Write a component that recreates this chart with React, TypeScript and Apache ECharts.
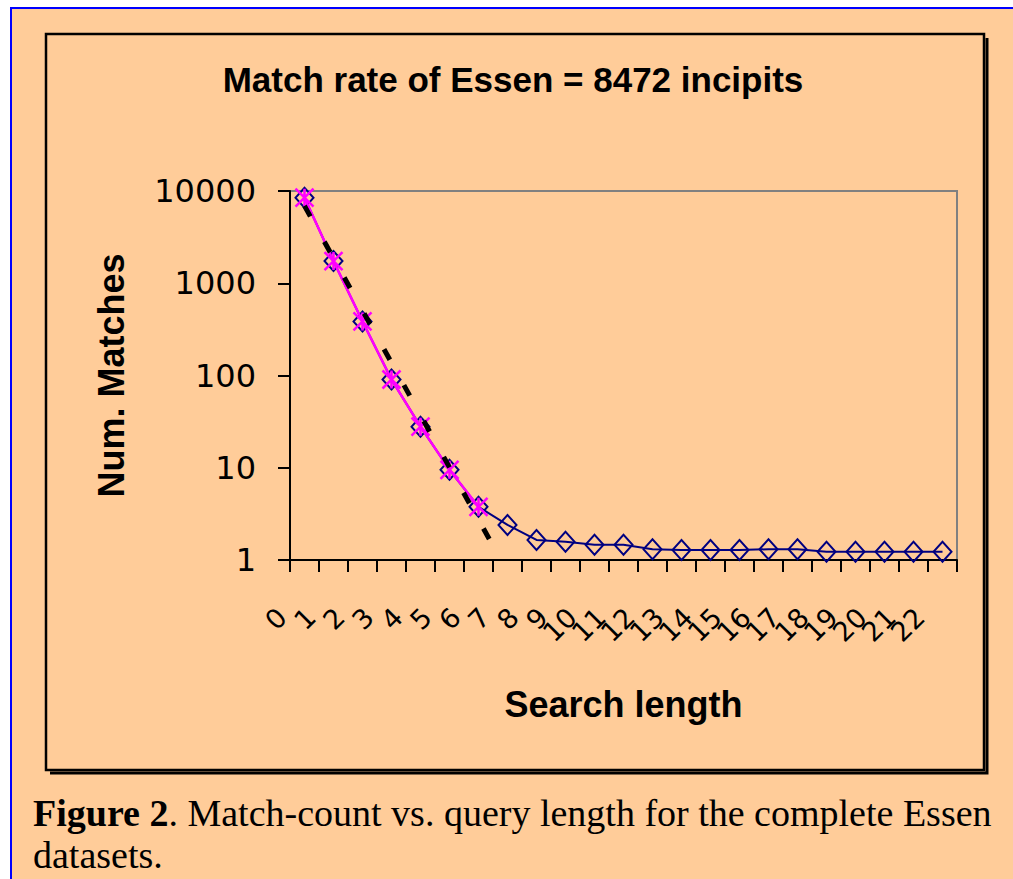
import React, { useEffect, useRef } from "react";
import * as echarts from "echarts";

const searchLengths = ["0","1","2","3","4","5","6","7","8","9","10","11","12","13","14","15","16","17","18","19","20","21","22"];
const allMatches = [8472, 1738, 386, 90.5, 27.9, 9.5, 3.77, 2.4, 1.65, 1.58, 1.46, 1.46, 1.31, 1.28, 1.28, 1.28, 1.31, 1.31, 1.23, 1.23, 1.23, 1.23, 1.23];
const earlyMatches = [8472, 1738, 386, 90.5, 27.9, 9.5, 3.77];
const trendX = [0, 6.6];
const trendY = [6900, 1.25];

const titleText = "Match rate of Essen = 8472 incipits";
const yName = "Num. Matches";
const xName = "Search length";
const captionBold = "Figure 2";
const captionLine1 = ". Match-count vs. query length for the complete Essen";
const captionLine2 = "datasets.";

const PEACH = "#FFCC99";
const SANS = "'Liberation Sans', Arial, sans-serif";
const SERIF = "'Liberation Serif', 'Times New Roman', serif";

export default function App() {
  const ref = useRef<HTMLDivElement>(null);
  useEffect(() => {
    if (!ref.current) return;
    const chart = echarts.init(ref.current, null, { renderer: "svg" });
    const xMarker = "path://M0,0L10,10M10,0L0,10M5,0L5,10";
    chart.setOption({
      animation: false,
      backgroundColor: "#ffffff",
      title: {
        text: titleText,
        left: 508,
        top: 57,
        textAlign: "center",
        textStyle: { fontFamily: SANS, fontWeight: "bold", fontSize: 35, color: "#000" },
      },
      grid: {
        left: 290,
        right: 56,
        top: 191,
        bottom: 319,
        show: true,
        borderColor: "#808080",
        borderWidth: 2,
        backgroundColor: "transparent",
        containLabel: false,
      },
      xAxis: [
        {
          type: "category",
          data: searchLengths,
          boundaryGap: true,
          name: xName,
          nameLocation: "middle",
          nameGap: 126,
          nameTextStyle: { fontFamily: SANS, fontWeight: "bold", fontSize: 36, color: "#000" },
          axisLine: { show: true, onZero: false, lineStyle: { color: "#000", width: 2 } },
          axisTick: { show: true, interval: 0, length: 12, lineStyle: { color: "#000", width: 2 } },
          axisLabel: {
            interval: 0,
            rotate: 45,
            margin: 30,
            padding: [0, 32, 0, 0],
            fontFamily: "'DejaVu Sans', sans-serif",
            fontSize: 27,
            color: "#000",
          },
          splitLine: { show: false },
        },
        {
          type: "value",
          min: -0.5,
          max: 22.5,
          show: false,
        },
      ],
      yAxis: {
        type: "log",
        logBase: 10,
        min: 1,
        max: 10000,
        name: yName,
        nameLocation: "middle",
        nameGap: 161,
        nameRotate: 90,
        nameTextStyle: { fontFamily: SANS, fontWeight: "bold", fontSize: 36, color: "#000" },
        axisLine: { show: true, onZero: false, lineStyle: { color: "#000", width: 2 } },
        axisTick: { show: true, length: 12, lineStyle: { color: "#000", width: 2 } },
        axisLabel: {
          margin: 34,
          fontFamily: "'DejaVu Sans', sans-serif",
          fontSize: 32,
          color: "#000",
          formatter: (v: number) => String(Math.round(v)),
        },
        splitLine: { show: false },
        minorTick: { show: false },
      },
      series: [
        {
          type: "line",
          name: "all",
          data: allMatches,
          xAxisIndex: 0,
          z: 2,
          symbol: "diamond",
          symbolSize: [18, 20],
          showAllSymbol: true,
          lineStyle: { color: "#000080", width: 2 },
          itemStyle: { color: "rgba(0,0,0,0)", borderColor: "#000080", borderWidth: 2 },
        },
        {
          type: "line",
          name: "early",
          data: earlyMatches,
          xAxisIndex: 0,
          z: 3,
          symbol: xMarker,
          symbolSize: 18,
          showAllSymbol: true,
          lineStyle: { color: "#FF00FF", width: 2.5 },
          itemStyle: { color: "rgba(0,0,0,0)", borderColor: "#FF00FF", borderWidth: 2.5 },
        },
        {
          type: "line",
          name: "trend",
          data: trendX.map((x, i) => [x, trendY[i]]),
          xAxisIndex: 1,
          z: 4,
          symbol: "none",
          lineStyle: { color: "#000", width: 5, type: [12, 29] },
        },
      ],
      graphic: [
        {
          type: "rect",
          z: -100,
          shape: { x: 11, y: 8, width: 1020, height: 900 },
          style: { fill: PEACH, stroke: "#0000FF", lineWidth: 2 },
        },
        {
          type: "polyline",
          z: -90,
          shape: { points: [[50, 773], [987, 773], [987, 38]] },
          style: { stroke: "#000", lineWidth: 3, fill: null },
        },
        {
          type: "rect",
          z: -80,
          shape: { x: 46, y: 34, width: 938, height: 736 },
          style: { fill: "transparent", stroke: "#000", lineWidth: 2.5 },
        },
        {
          type: "text",
          z: 10,
          x: 33,
          y: 792,
          style: {
            text: "{b|" + captionBold + "}{n|" + captionLine1 + "}\n{n|" + captionLine2 + "}",
            fill: "#000",
            font: "38px " + SERIF,
            lineHeight: 42,
            rich: {
              b: { fontFamily: SERIF, fontSize: 38, fontWeight: "bold", lineHeight: 42 },
              n: { fontFamily: SERIF, fontSize: 38, lineHeight: 42 },
            },
          },
        },
      ],
    });
    return () => chart.dispose();
  }, []);
  return (
    <div
      ref={ref}
      style={{ position: "absolute", left: 0, top: 0, width: 1013, height: 879 }}
    />
  );
}
